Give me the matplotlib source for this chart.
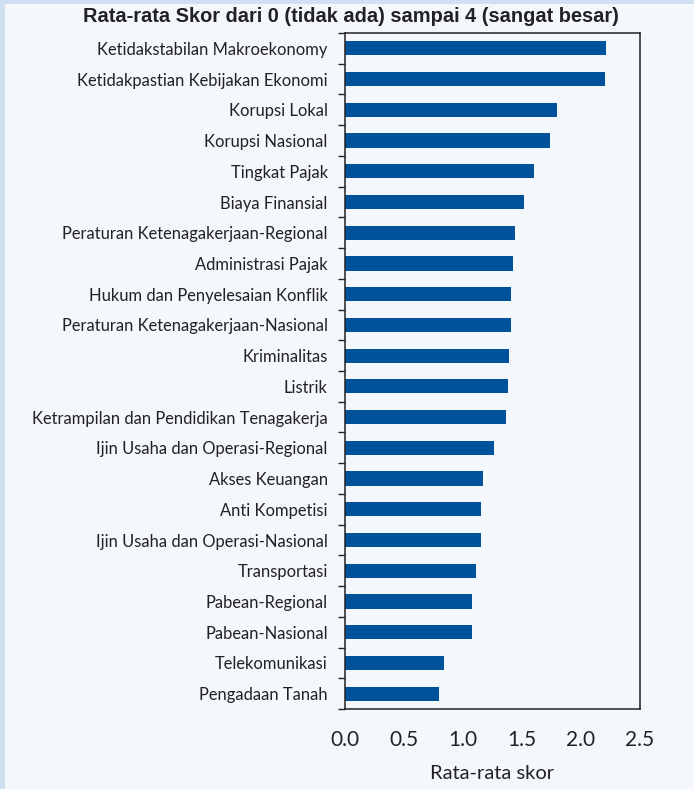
import matplotlib
matplotlib.use("Agg")
import matplotlib.pyplot as plt
from matplotlib.patches import Rectangle
import numpy as np

categories = [
    "Ketidakstabilan Makroekonomy",
    "Ketidakpastian Kebijakan Ekonomi",
    "Korupsi Lokal",
    "Korupsi Nasional",
    "Tingkat Pajak",
    "Biaya Finansial",
    "Peraturan Ketenagakerjaan-Regional",
    "Administrasi Pajak",
    "Hukum dan Penyelesaian Konflik",
    "Peraturan Ketenagakerjaan-Nasional",
    "Kriminalitas",
    "Listrik",
    "Ketrampilan dan Pendidikan Tenagakerja",
    "Ijin Usaha dan Operasi-Regional",
    "Akses Keuangan",
    "Anti Kompetisi",
    "Ijin Usaha dan Operasi-Nasional",
    "Transportasi",
    "Pabean-Regional",
    "Pabean-Nasional",
    "Telekomunikasi",
    "Pengadaan Tanah",
]
scores = [2.21, 2.20, 1.80, 1.74, 1.60, 1.52, 1.44, 1.425, 1.41, 1.41, 1.39,
          1.38, 1.365, 1.265, 1.17, 1.155, 1.155, 1.11, 1.075, 1.075, 0.84, 0.80]
xticks = [0.0, 0.5, 1.0, 1.5, 2.0, 2.5]
xtick_labels = ["0.0", "0.5", "1.0", "1.5", "2.0", "2.5"]
title = "Rata-rata Skor dari 0 (tidak ada) sampai 4 (sangat besar)"
xlabel = "Rata-rata skor"

W, H = 694, 789
fig = plt.figure(figsize=(W / 100, H / 100), dpi=100)
fig.patch.set_facecolor("#f4f7fc")
# outer light-blue frame strips (left and top)
fig.add_artist(Rectangle((0, 0), 5 / W, 1, transform=fig.transFigure,
                         facecolor="#cfe0f3", edgecolor="none", zorder=0))
fig.add_artist(Rectangle((0, 1 - 4 / H), 1, 4 / H, transform=fig.transFigure,
                         facecolor="#cfe0f3", edgecolor="none", zorder=0))

left, right, top, bottom = 345, 640, 33, 709
ax = fig.add_axes([left / W, 1 - bottom / H, (right - left) / W, (bottom - top) / H])
ax.set_facecolor("#f4f7fc")

y = np.arange(len(categories))
ax.barh(y, scores, height=0.46, color="#00529b", zorder=2)
ax.set_ylim(len(categories) - 0.5, -0.5)
ax.set_xlim(0, 2.5)

ax.set_yticks(y)
ax.set_yticklabels(categories, family=["Lato", "DejaVu Sans"], fontsize=11.9, color="#222222")
ax.tick_params(axis="y", which="major", length=0, pad=12.5)
ax.set_yticks(np.arange(-0.5, len(categories) + 0.5, 1), minor=True)
ax.tick_params(axis="y", which="minor", length=5, width=1, color="#222222")

ax.set_xticks(xticks)
ax.set_xticklabels(xtick_labels, family=["Lato", "DejaVu Sans"], fontsize=15, color="#222222")
ax.tick_params(axis="x", length=0, pad=15)

for s in ax.spines.values():
    s.set_color("#222222")
    s.set_linewidth(1.1)

ax.set_xlabel(xlabel, family=["Lato", "DejaVu Sans"], fontsize=14.5, color="#222222", labelpad=11)

fig.text(351 / W, 1 - 17 / H, title, ha="center", va="center",
         family=["Liberation Sans", "DejaVu Sans"], fontweight="bold", fontsize=14.4, color="#222222")

fig.savefig("out.png", dpi=100, facecolor=fig.get_facecolor())
